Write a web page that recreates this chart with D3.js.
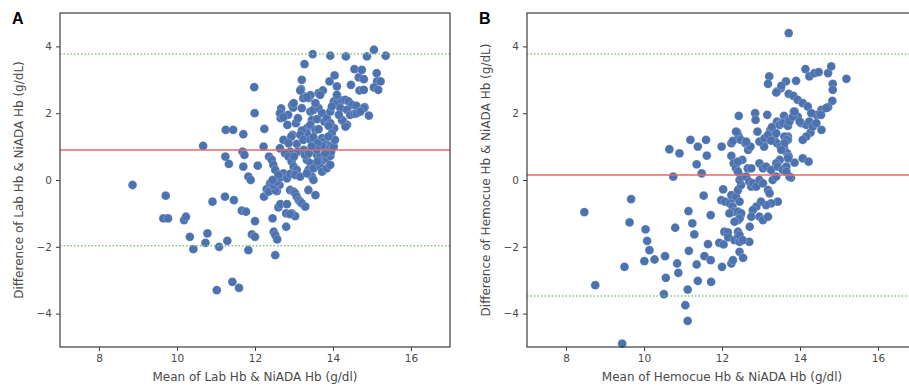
<!DOCTYPE html>
<html>
<head>
<meta charset="utf-8">
<script src="https://cdn.jsdelivr.net/npm/d3@7"></script>
<style>
  html, body { margin: 0; padding: 0; background: #fff; }
  svg { display: block; }
  text { font-family: "DejaVu Sans", sans-serif; }
</style>
</head>
<body>
<svg id="chart" width="909" height="389"></svg>
<script>
// ---------- data ----------
const xTicks = [8, 10, 12, 14, 16];
const yTicks = [-4, -2, 0, 2, 4];
const panelLetters = ["A", "B"];
const xLabels = ["Mean of Lab Hb & NiADA Hb (g/dl)", "Mean of Hemocue Hb & NiADA Hb (g/dl)"];
const yLabels = ["Difference of Lab Hb & NiADA Hb (g/dL)", "Difference of Hemocue Hb & NiADA Hb (g/dL)"];

// bias, upper and lower limits of agreement
const limitsA = [0.90, 3.77, -1.97];
const limitsB = [0.15, 3.77, -3.47];

const meanA = [8.86,9.71,9.65,9.77,10.18,10.23,10.33,10.42,10.67,10.91,10.78,10.73,11.08,11.02,11.24,11.33,11.25,11.44,11.23,11.46,11.29,11.42,11.59,11.70,11.68,11.73,11.70,11.66,11.77,11.83,11.89,11.83,11.92,12.00,11.98,11.99,12.00,12.07,12.22,12.24,12.23,12.30,12.35,12.36,12.45,12.48,12.52,12.57,12.52,12.56,12.63,12.60,12.65,12.80,12.80,12.67,12.70,12.66,12.73,12.83,12.85,12.95,12.98,12.96,13.07,13.20,13.27,13.20,13.18,13.26,13.37,13.48,13.42,13.63,13.74,13.93,13.91,14.04,14.10,14.33,14.46,14.55,14.66,14.74,14.79,14.68,14.79,14.87,14.81,14.92,15.05,15.12,15.13,15.22,15.05,15.16,15.35,
13.16,13.67,13.24,13.33,12.99,12.64,12.73,12.93,13.42,13.50,13.63,13.72,13.46,13.59,13.78,13.84,13.93,14.02,14.10,14.23,14.32,14.40,14.49,14.60,13.97,14.19,14.36,14.44,14.55,14.61,14.79,14.27,14.36,14.32,14.23,14.03,13.93,13.89,13.97,13.33,13.42,13.55,13.63,13.33,13.20,13.16,13.24,13.42,13.50,13.72,13.76,13.84,13.93,13.80,13.72,12.64,12.90,12.86,12.94,13.03,12.90,12.82,12.52,12.39,12.47,12.56,12.64,12.73,12.82,12.90,12.43,12.47,12.52,12.60,12.77,12.86,12.94,12.99,13.07,13.03,13.16,12.90,12.99,13.03,13.07,13.12,13.16,13.20,13.29,13.33,13.42,13.37,13.46,13.50,13.33,13.50,13.59,13.67,13.76,13.84,13.93,13.67,13.72,13.84,13.93,13.37,13.55,13.95,14.02,14.05,13.88,13.60,13.10,13.00,13.25,13.28,13.58,13.05,13.10,13.55,14.15,14.70,14.10,12.45,13.60,13.80,13.38,13.45];
const diffA = [-0.15,-0.47,-1.15,-1.15,-1.20,-1.10,-1.70,-2.07,1.02,-0.65,-1.60,-1.88,-2.00,-3.30,0.70,0.48,1.50,1.50,-0.50,-0.60,-1.82,-3.05,-3.23,1.37,0.85,0.75,0.40,-0.92,-0.95,0.10,0.00,-2.10,-1.63,-1.70,2.78,2.00,-1.23,0.43,1.00,1.53,-0.50,-0.27,-0.35,0.70,-1.15,-1.55,-1.65,-1.78,-2.25,-0.33,-0.15,-0.82,-0.72,-1.00,-1.40,2.14,1.95,1.85,1.20,1.65,1.95,2.24,2.17,1.35,1.08,3.00,3.47,2.15,2.72,2.50,2.45,3.77,2.54,2.60,2.68,3.72,2.95,3.13,2.80,3.70,2.85,3.32,3.07,3.30,3.02,2.68,2.70,3.70,2.18,1.93,3.90,3.20,2.95,2.95,2.77,2.70,3.72,
2.68,2.55,2.45,2.48,2.30,2.00,1.88,1.30,2.05,2.10,2.15,2.00,1.80,1.82,1.75,1.85,2.05,2.35,2.30,2.38,2.40,2.35,2.25,2.22,2.20,2.15,2.10,1.95,1.98,2.00,2.15,1.75,1.65,1.60,1.80,1.55,1.70,1.62,1.40,1.55,1.65,1.50,1.52,1.40,1.48,1.35,1.20,1.20,1.28,1.25,1.15,1.05,1.02,0.95,1.02,0.95,0.85,1.10,-1.00,-1.08,-1.02,-0.72,-0.30,-0.10,-0.15,-0.05,0.08,0.20,0.05,0.18,0.60,0.45,0.30,0.15,0.80,0.70,0.55,0.40,0.30,0.15,0.10,-0.30,-0.35,-0.40,-0.50,-0.60,-0.65,-0.70,-0.80,0.60,0.50,0.30,0.10,0.00,0.20,0.35,0.75,0.70,0.60,0.65,0.72,0.40,0.25,0.35,0.45,-0.30,-0.45,0.85,1.00,1.20,1.30,1.10,0.85,0.70,0.90,0.75,0.90,1.70,1.85,2.30,1.95,2.05,2.55,0.00,0.55,0.80,0.80,1.00];

const meanB = [8.47,8.75,9.44,9.50,9.63,9.67,10.04,10.08,10.14,10.01,10.27,10.54,10.56,10.51,10.65,10.75,10.91,10.80,10.85,10.88,11.12,11.06,11.12,11.14,11.15,11.24,11.29,11.19,11.38,11.35,11.48,11.35,11.38,11.53,11.55,11.59,11.61,11.64,11.71,11.71,11.72,11.93,11.99,12.03,12.00,11.98,12.08,12.04,12.06,12.15,12.16,12.24,12.28,12.24,12.24,12.28,12.20,12.27,12.31,12.32,12.41,12.45,12.43,12.39,12.43,12.48,12.30,12.36,12.45,12.54,12.41,12.47,12.52,12.60,12.67,12.73,12.70,12.85,12.86,12.91,13.16,13.21,13.18,13.41,13.51,13.64,13.71,13.90,13.71,13.83,13.94,14.07,14.20,14.14,14.24,14.37,14.48,14.72,14.80,14.84,14.84,14.83,14.72,14.55,14.42,15.19,14.55,14.27,14.07,14.22,14.16,14.07,13.77,13.86,13.84,13.59,13.69,13.41,13.50,13.24,13.28,13.12,13.20,13.33,13.41,13.08,13.50,13.59,13.67,13.71,13.69,13.69,13.94,14.03,14.16,14.24,14.33,
12.36,12.62,12.96,13.09,13.18,13.26,13.39,13.48,13.56,13.69,13.73,13.82,13.99,14.42,14.54,14.67,13.39,13.52,13.86,14.29,13.60,13.66,13.60,13.52,13.69,13.48,13.39,12.41,12.66,12.75,12.96,13.05,13.13,13.26,13.43,13.56,13.65,12.28,12.24,12.36,12.45,12.41,12.49,12.45,12.49,12.41,12.19,12.41,12.49,12.45,12.32,12.41,12.45,12.53,12.62,12.70,12.75,12.79,12.88,12.96,13.05,13.18,13.22,13.30,13.39,13.43,13.26,13.13,13.00,12.88,12.79,12.75,12.71,12.96,13.05,13.18,13.73,13.65];
const diffB = [-0.96,-3.15,-4.90,-2.60,-1.27,-0.57,-1.48,-1.82,-2.10,-2.43,-2.38,-2.28,-2.93,-3.42,0.92,0.10,0.80,-1.43,-2.50,-2.78,-3.28,-3.75,-4.22,-0.93,-2.12,-1.30,-1.63,1.20,1.00,0.47,0.20,-2.53,-3.02,-0.47,-2.28,1.20,0.73,-1.92,-1.05,-2.40,-3.05,-1.88,1.00,-0.28,-2.60,-0.60,-0.65,-1.93,-1.55,-1.57,-1.72,1.10,1.17,0.72,-2.50,-2.40,-0.70,-0.80,-0.95,-1.80,-1.70,-1.85,1.92,1.42,1.30,1.20,0.50,0.35,-2.15,-2.33,-1.20,-1.08,0.60,1.10,0.90,1.00,-1.85,2.00,1.80,1.45,1.95,3.10,2.88,2.65,2.75,2.95,4.40,2.97,2.58,2.52,2.40,2.30,2.20,3.32,3.10,3.20,3.23,3.20,3.40,2.88,2.70,2.37,2.18,2.10,1.95,3.03,1.50,1.42,0.65,0.55,1.30,1.20,0.07,0.52,2.05,1.92,1.80,1.75,1.70,1.50,1.58,1.20,1.30,1.25,1.10,1.00,1.00,0.95,0.80,0.70,1.30,1.20,1.90,1.70,1.65,1.75,1.60,
1.45,1.15,1.15,1.25,1.35,1.18,1.40,1.65,1.70,1.62,1.75,1.90,1.75,1.70,1.95,2.15,2.62,2.82,2.05,2.00,1.30,1.20,1.10,0.90,0.65,0.60,0.50,0.55,0.35,0.35,0.50,0.35,0.40,0.30,0.40,0.30,0.40,-0.55,-0.45,-0.50,-0.65,-0.30,-0.15,0.00,0.10,0.25,-1.00,-0.95,-1.00,-1.15,-1.25,-1.55,-1.65,-1.80,0.10,-0.05,-0.20,-0.10,-0.20,0.00,-0.10,-0.30,-0.40,0.00,0.10,-0.65,-0.70,-0.75,-0.65,-0.80,-0.90,-1.10,-1.40,-1.10,-1.20,-1.10,0.10,0.25];

// ---------- drawing ----------
const svg = d3.select("#chart");
const dotColor = "#4c72b0";
const axisColor = "#3d3d3d";
const textColor = "#4a4a4a";

function drawPanel(left, right, letter, means, diffs, limits, xLabel, yLabel) {
  const top = 13, bottom = 347;
  const x = d3.scaleLinear().domain([7, 17]).range([left, right]);
  const y = d3.scaleLinear().domain([-5, 5]).range([bottom, top]);
  const g = svg.append("g");

  // points
  g.append("g").selectAll("circle")
    .data(d3.zip(means, diffs))
    .join("circle")
    .attr("cx", d => x(d[0]))
    .attr("cy", d => y(d[1]))
    .attr("r", 4.4)
    .attr("fill", dotColor)
    .attr("stroke", "#ffffff")
    .attr("stroke-opacity", 0.6)
    .attr("stroke-width", 0.35);

  // bias line
  g.append("line")
    .attr("x1", left).attr("x2", right)
    .attr("y1", y(limits[0])).attr("y2", y(limits[0]))
    .attr("stroke", "#e06a6a").attr("stroke-width", 1.6);
  // limits of agreement
  [limits[1], limits[2]].forEach(v => {
    g.append("line")
      .attr("x1", left).attr("x2", right)
      .attr("y1", y(v)).attr("y2", y(v))
      .attr("stroke", "#7fc47f").attr("stroke-width", 1.5)
      .attr("stroke-dasharray", "1.5,2");
  });

  // axes
  const xa = g.append("g").attr("transform", `translate(0,${bottom})`)
    .call(d3.axisBottom(x).tickValues(xTicks).tickSize(4).tickPadding(4).tickFormat(d3.format("d")));
  const ya = g.append("g").attr("transform", `translate(${left},0)`)
    .call(d3.axisLeft(y).tickValues(yTicks).tickSize(4).tickPadding(4)
      .tickFormat(d => d < 0 ? "\u2212" + Math.abs(d) : String(d)));
  [xa, ya].forEach(a => {
    a.select(".domain").remove();
    a.selectAll("line").attr("stroke", axisColor).attr("stroke-width", 1);
    a.selectAll("text").attr("fill", textColor).style("font-size", "10.5px")
      .style("font-family", "DejaVu Sans, sans-serif");
  });

  // frame
  g.append("rect")
    .attr("x", left).attr("y", top)
    .attr("width", right - left).attr("height", bottom - top)
    .attr("fill", "none").attr("stroke", axisColor).attr("stroke-width", 1.2);

  // labels
  g.append("text")
    .attr("x", (left + right) / 2).attr("y", 381)
    .attr("text-anchor", "middle").attr("fill", textColor)
    .style("font-size", "12px").text(xLabel);
  g.append("text")
    .attr("transform", `translate(${left - 37},${(top + bottom) / 2}) rotate(-90)`)
    .attr("text-anchor", "middle").attr("fill", textColor)
    .style("font-size", "12px").text(yLabel);
  g.append("text")
    .attr("x", left - 48).attr("y", 24)
    .attr("fill", "#000").style("font-family", "Liberation Sans, Arial, sans-serif")
    .style("font-weight", "bold").style("font-size", "16px").text(letter);
}

drawPanel(60, 450, panelLetters[0], meanA, diffA, limitsA, xLabels[0], yLabels[0]);
drawPanel(527, 917, panelLetters[1], meanB, diffB, limitsB, xLabels[1], yLabels[1]);
</script>
</body>
</html>
